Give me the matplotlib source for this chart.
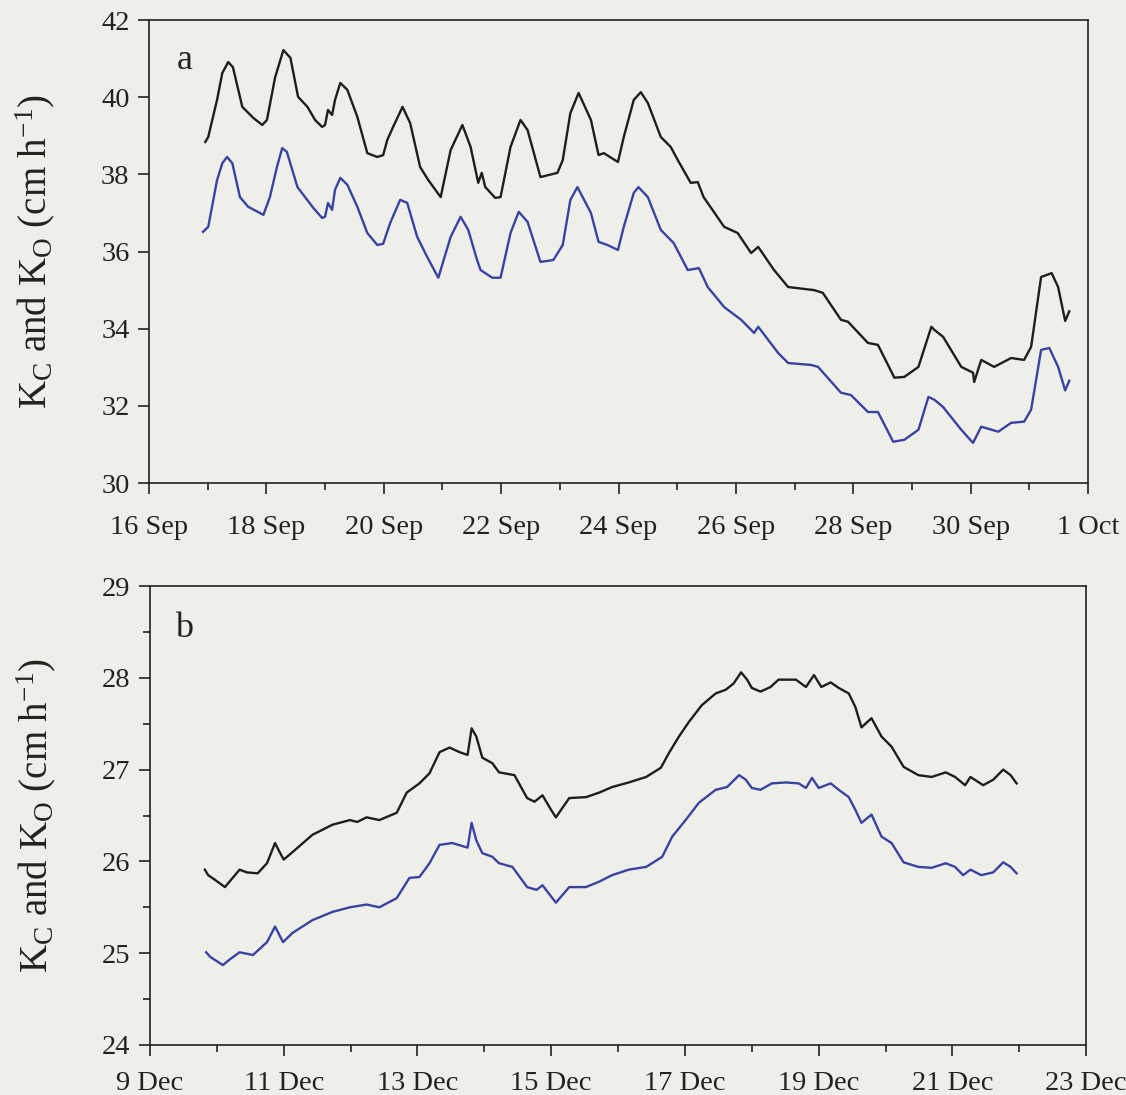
import numpy as np
import matplotlib.pyplot as plt
from matplotlib.ticker import MultipleLocator

# Panel a: 16 Sep - 1 Oct, x in days after 16 Sep 00:00
a_kc_days = [0.96, 1.01, 1.16, 1.25, 1.35, 1.43, 1.59, 1.78, 1.93, 2.01, 2.15, 2.29, 2.41,
             2.54, 2.70, 2.83, 2.95, 3.00, 3.05, 3.12, 3.17, 3.26, 3.38, 3.55, 3.72, 3.89,
             3.99, 4.06, 4.16, 4.32, 4.45, 4.62, 4.76, 4.97, 5.14, 5.34, 5.48, 5.61, 5.67,
             5.73, 5.90, 5.99, 6.16, 6.33, 6.45, 6.67, 6.96, 7.05, 7.18, 7.32, 7.53, 7.66,
             7.75, 7.99, 8.09, 8.26, 8.38, 8.50, 8.72, 8.89, 9.01, 9.23, 9.35, 9.45, 9.80,
             10.03, 10.26, 10.38, 10.65, 10.89, 11.33, 11.48, 11.79, 11.91, 12.25, 12.42,
             12.70, 12.87, 13.11, 13.33, 13.38, 13.53, 13.84, 14.04, 14.06, 14.18, 14.40,
             14.69, 14.91, 15.03, 15.20, 15.38, 15.49, 15.61, 15.68]
a_kc = [38.84, 38.97, 39.93, 40.63, 40.91, 40.78, 39.75, 39.46, 39.28, 39.41, 40.52, 41.22,
        41.02, 40.01, 39.75, 39.41, 39.23, 39.28, 39.67, 39.54, 39.93, 40.37, 40.19, 39.49,
        38.55, 38.45, 38.50, 38.89, 39.23, 39.75, 39.33, 38.19, 37.85, 37.41, 38.63, 39.28,
        38.71, 37.78, 38.04, 37.67, 37.39, 37.41, 38.71, 39.41, 39.15, 37.93, 38.04, 38.37,
        39.59, 40.11, 39.41, 38.50, 38.55, 38.32, 38.97, 39.93, 40.13, 39.85, 38.97, 38.71,
        38.37, 37.78, 37.80, 37.41, 36.64, 36.48, 35.96, 36.12, 35.52, 35.08, 35.00, 34.93,
        34.23, 34.18, 33.63, 33.58, 32.73, 32.75, 33.01, 34.05, 33.97, 33.79, 33.01, 32.86,
        32.62, 33.19, 33.01, 33.24, 33.19, 33.53, 35.34, 35.44, 35.08, 34.20, 34.45]

a_ko_days = [0.92, 1.01, 1.16, 1.25, 1.33, 1.42, 1.55, 1.69, 1.95, 2.06, 2.18, 2.27, 2.35,
             2.53, 2.66, 2.80, 2.95, 3.00, 3.05, 3.12, 3.17, 3.26, 3.38, 3.55, 3.72, 3.89,
             3.99, 4.11, 4.28, 4.40, 4.57, 4.74, 4.93, 5.14, 5.31, 5.44, 5.59, 5.65, 5.85,
             5.99, 6.16, 6.30, 6.45, 6.67, 6.89, 7.05, 7.18, 7.30, 7.53, 7.66, 7.81, 7.99,
             8.09, 8.26, 8.34, 8.50, 8.72, 8.94, 9.18, 9.37, 9.52, 9.80, 10.09, 10.31, 10.38,
             10.72, 10.89, 11.28, 11.40, 11.79, 11.96, 12.25, 12.42, 12.68, 12.87, 13.11,
             13.28, 13.38, 13.53, 13.84, 14.04, 14.18, 14.47, 14.69, 14.91, 15.03, 15.20,
             15.34, 15.49, 15.61, 15.68]
a_ko = [36.51, 36.64, 37.85, 38.29, 38.45, 38.29, 37.41, 37.16, 36.95, 37.41, 38.19, 38.68,
        38.58, 37.67, 37.41, 37.13, 36.87, 36.90, 37.26, 37.08, 37.60, 37.91, 37.73, 37.16,
        36.48, 36.17, 36.20, 36.74, 37.34, 37.26, 36.38, 35.86, 35.32, 36.38, 36.90, 36.56,
        35.78, 35.52, 35.32, 35.32, 36.48, 37.03, 36.77, 35.73, 35.78, 36.17, 37.34, 37.67,
        37.00, 36.25, 36.17, 36.04, 36.64, 37.52, 37.67, 37.41, 36.56, 36.22, 35.52, 35.57,
        35.08, 34.56, 34.23, 33.89, 34.05, 33.37, 33.11, 33.06, 33.01, 32.34, 32.28, 31.84,
        31.84, 31.07, 31.12, 31.38, 32.23, 32.16, 31.97, 31.38, 31.04, 31.46, 31.33, 31.56,
        31.59, 31.90, 33.45, 33.50, 33.01, 32.40, 32.65]

# Panel b: 9 Dec - 23 Dec, x in days after 9 Dec 00:00
b_kc_days = [0.82, 0.87, 0.97, 1.12, 1.19, 1.34, 1.45, 1.61, 1.75, 1.87, 1.94, 2.00, 2.13,
             2.43, 2.73, 2.99, 3.10, 3.24, 3.43, 3.69, 3.84, 4.03, 4.18, 4.33, 4.48, 4.63,
             4.75, 4.81, 4.88, 4.97, 5.12, 5.22, 5.45, 5.64, 5.75, 5.87, 6.00, 6.07, 6.27,
             6.52, 6.72, 6.91, 7.16, 7.42, 7.64, 7.76, 7.91, 8.06, 8.25, 8.46, 8.61, 8.73,
             8.84, 8.93, 9.00, 9.13, 9.28, 9.40, 9.66, 9.81, 9.93, 10.04, 10.18, 10.30,
             10.45, 10.55, 10.64, 10.79, 10.94, 11.09, 11.27, 11.49, 11.69, 11.90, 12.04,
             12.19, 12.27, 12.46, 12.61, 12.76, 12.87, 12.96]
b_kc = [25.91, 25.85, 25.80, 25.72, 25.78, 25.91, 25.88, 25.87, 25.98, 26.20, 26.10, 26.02,
        26.10, 26.29, 26.40, 26.45, 26.43, 26.48, 26.45, 26.53, 26.75, 26.85, 26.96, 27.19,
        27.24, 27.19, 27.16, 27.45, 27.36, 27.13, 27.07, 26.97, 26.94, 26.69, 26.65, 26.72,
        26.56, 26.48, 26.69, 26.70, 26.75, 26.81, 26.86, 26.92, 27.02, 27.18, 27.36, 27.52,
        27.70, 27.83, 27.87, 27.94, 28.06, 27.98, 27.89, 27.85, 27.90, 27.98, 27.98, 27.90,
        28.03, 27.90, 27.95, 27.89, 27.83, 27.68, 27.46, 27.56, 27.36, 27.25, 27.03, 26.94,
        26.92, 26.97, 26.92, 26.83, 26.92, 26.83, 26.89, 27.00, 26.94, 26.85]

b_ko_days = [0.84, 0.90, 1.09, 1.19, 1.34, 1.54, 1.75, 1.87, 1.99, 2.13, 2.43, 2.73, 2.99,
             3.24, 3.43, 3.69, 3.88, 4.03, 4.18, 4.33, 4.52, 4.75, 4.81, 4.88, 4.97, 5.12,
             5.22, 5.42, 5.64, 5.78, 5.87, 6.07, 6.27, 6.52, 6.72, 6.91, 7.16, 7.42, 7.66,
             7.81, 8.01, 8.21, 8.46, 8.63, 8.81, 8.91, 9.00, 9.13, 9.30, 9.51, 9.70, 9.81,
             9.90, 10.00, 10.18, 10.30, 10.45, 10.55, 10.64, 10.79, 10.94, 11.09, 11.27,
             11.49, 11.69, 11.90, 12.04, 12.16, 12.27, 12.43, 12.61, 12.76, 12.87, 12.96]
b_ko = [25.01, 24.96, 24.87, 24.93, 25.01, 24.98, 25.12, 25.29, 25.12, 25.22, 25.36, 25.45,
        25.50, 25.53, 25.50, 25.60, 25.82, 25.83, 25.98, 26.18, 26.20, 26.15, 26.42, 26.23,
        26.09, 26.05, 25.98, 25.94, 25.72, 25.69, 25.74, 25.55, 25.72, 25.72, 25.78, 25.85,
        25.91, 25.94, 26.05, 26.27, 26.45, 26.64, 26.78, 26.81, 26.94, 26.89, 26.80, 26.78,
        26.85, 26.86, 26.85, 26.80, 26.91, 26.80, 26.85, 26.78, 26.70, 26.56, 26.42, 26.51,
        26.27, 26.20, 25.99, 25.94, 25.93, 25.98, 25.94, 25.85, 25.91, 25.85, 25.88, 25.99,
        25.94, 25.87]

sep_labels = ["16 Sep", "18 Sep", "20 Sep", "22 Sep", "24 Sep", "26 Sep", "28 Sep",
              "30 Sep", "1 Oct"]
dec_labels = ["9 Dec", "11 Dec", "13 Dec", "15 Dec", "17 Dec", "19 Dec", "21 Dec", "23 Dec"]

bg = "#efefea"
ink = "#222222"
plt.rcParams["font.family"] = ["Liberation Serif", "DejaVu Serif"]
plt.rcParams["mathtext.fontset"] = "custom"
plt.rcParams["mathtext.rm"] = "Liberation Serif"
plt.rcParams["mathtext.it"] = "Liberation Serif"

fig = plt.figure(figsize=(11.26, 10.95), dpi=100, facecolor=bg)
ax1 = fig.add_axes([0.1323, 0.5589, 0.8340, 0.4228])
ax2 = fig.add_axes([0.1332, 0.0457, 0.8314, 0.4191])

ylab = r"K$_\mathrm{C}$ and K$_\mathrm{O}$ (cm h$^\mathrm{-1}$)"


def style(ax, ymin, ymax, ystep, ndays, labels, xpad, yminor=None):
    ax.set_facecolor(bg)
    for s in ax.spines.values():
        s.set_color(ink)
        s.set_linewidth(1.2)
    ax.set_xlim(0, ndays)
    ax.set_ylim(ymin, ymax)
    ax.set_xticks(np.arange(0, ndays + 1, 2))
    ax.set_xticklabels(labels)
    ax.xaxis.set_minor_locator(MultipleLocator(1))
    ax.yaxis.set_major_locator(MultipleLocator(ystep))
    if yminor:
        ax.yaxis.set_minor_locator(MultipleLocator(yminor))
    ax.tick_params(axis="both", which="major", direction="out", length=8, width=1.2,
                   color=ink, labelcolor=ink, labelsize=20.5, pad=6)
    ax.tick_params(axis="both", which="minor", direction="out", length=5, width=1.2,
                   color=ink)
    ax.tick_params(axis="x", which="major", pad=xpad)
    ax.set_ylabel(ylab, fontsize=28, color=ink)
    ax.yaxis.set_label_coords(-0.098, 0.5)


ax1.plot(a_kc_days, a_kc, color="#1e1e1e", lw=1.7)
ax1.plot(a_ko_days, a_ko, color="#3a42a0", lw=1.7)
style(ax1, 30, 42, 2, 16, sep_labels, 15)
ax1.text(0.03, 0.895, "a", transform=ax1.transAxes, fontsize=26, color=ink)

ax2.plot(b_kc_days, b_kc, color="#1e1e1e", lw=1.7)
ax2.plot(b_ko_days, b_ko, color="#3a42a0", lw=1.7)
style(ax2, 24, 29, 1, 14, dec_labels, 11, yminor=0.5)
ax2.text(0.027, 0.89, "b", transform=ax2.transAxes, fontsize=26, color=ink)

fig.savefig("out.png", dpi=100, facecolor=bg)
